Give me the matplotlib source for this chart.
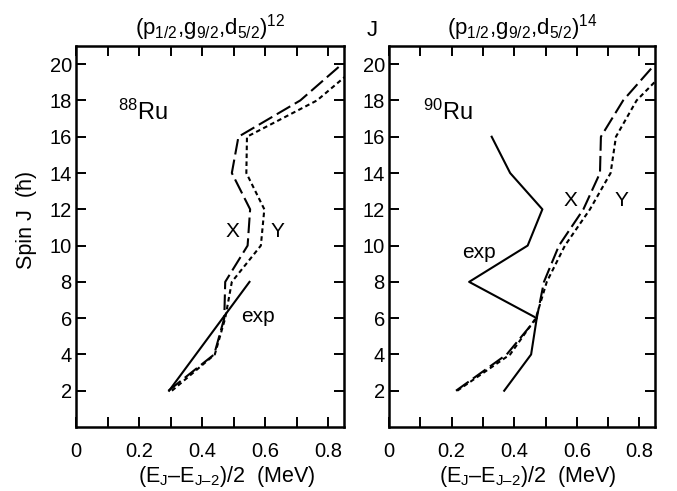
import matplotlib
matplotlib.use("Agg")
import matplotlib.pyplot as plt

plt.rcParams['font.family'] = ['Liberation Sans', 'DejaVu Sans']
plt.rcParams['mathtext.fontset'] = 'custom'
plt.rcParams['mathtext.rm'] = 'Liberation Sans'
plt.rcParams['mathtext.it'] = 'Liberation Sans'
plt.rcParams['mathtext.default'] = 'regular'

spins = [2, 4, 6, 8, 10, 12, 14, 16, 18, 20]

# 88Ru, (p1/2,g9/2,d5/2)^12
ru88_x = [0.293, 0.438, 0.470, 0.473, 0.544, 0.552, 0.494, 0.515, 0.711, 0.843]
ru88_y = [0.304, 0.440, 0.473, 0.494, 0.586, 0.597, 0.540, 0.542, 0.764, 0.900]
ru88_exp_spins = [2, 4, 6, 8]
ru88_exp = [0.295, 0.380, 0.465, 0.550]

# 90Ru, (p1/2,g9/2,d5/2)^14
ru90_x = [0.214, 0.376, 0.472, 0.495, 0.543, 0.621, 0.674, 0.677, 0.748, 0.850]
ru90_y = [0.218, 0.387, 0.469, 0.504, 0.562, 0.642, 0.708, 0.725, 0.791, 0.905]
ru90_exp_spins = [2, 4, 6, 8, 10, 12, 14, 16]
ru90_exp = [0.368, 0.454, 0.472, 0.256, 0.443, 0.490, 0.387, 0.328]

xticks = [0, 0.2, 0.4, 0.6, 0.8]
xtick_labels = ["0", "0.2", "0.4", "0.6", "0.8"]
yticks = [2, 4, 6, 8, 10, 12, 14, 16, 18, 20]

fig = plt.figure(figsize=(6.77, 4.91), dpi=100)
ax1 = fig.add_axes([0.1123, 0.1303, 0.396, 0.776])
ax2 = fig.add_axes([0.5746, 0.1303, 0.393, 0.776])

dash_x = (7.5, 2.5)
dash_y = (2.2, 1.6)
lw = 1.5

panels = [
    (ax1, ru88_x, ru88_y, ru88_exp_spins, ru88_exp, "12"),
    (ax2, ru90_x, ru90_y, ru90_exp_spins, ru90_exp, "14"),
]

for ax, xs, ys, es, ev, npart in panels:
    ax.plot(xs, spins, color='black', lw=lw, linestyle=(0, dash_x))
    ax.plot(ys, spins, color='black', lw=lw, linestyle=(0, dash_y))
    ax.plot(ev, es, color='black', lw=lw)
    ax.set_xlim(0, 0.85)
    ax.set_ylim(0, 21)
    ax.set_xticks(xticks)
    ax.set_xticklabels(xtick_labels)
    ax.set_xticks([0.1, 0.3, 0.5, 0.7], minor=True)
    ax.set_yticks(yticks)
    ax.tick_params(axis='both', which='both', direction='in', top=True, right=True,
                   length=7, width=1.4, labelsize=14.5)
    ax.tick_params(axis='x', which='both', pad=11)
    ax.tick_params(axis='y', which='both', pad=3)
    for s in ax.spines.values():
        s.set_linewidth(1.8)
    ax.set_title(r"$(\mathrm{p}_{1/2}{,}\mathrm{g}_{9/2}{,}\mathrm{d}_{5/2})^{%s}$" % npart,
                 fontsize=16, pad=8)
    ax.set_xlabel(r"$(\mathrm{E}_{\mathrm{J}}$–$\mathrm{E}_{\mathrm{J–2}})/2$  (MeV)", fontsize=15.5)

ax1.xaxis.set_label_coords(0.563, -0.098)
ax2.xaxis.set_label_coords(0.523, -0.098)

ax1.set_ylabel("Spin J  (ħ)", fontsize=15.5)
ax1.yaxis.set_label_coords(-0.146, 0.543)

ax1.text(0.133, 17.36, r"$^{88}$Ru", fontsize=17, ha='left', va='center')
ax1.text(0.496, 10.75, "X", fontsize=15, ha='center', va='center')
ax1.text(0.638, 10.75, "Y", fontsize=15, ha='center', va='center')
ax1.text(0.578, 6.1, "exp", fontsize=15, ha='center', va='center')

ax2.text(0.109, 17.36, r"$^{90}$Ru", fontsize=17, ha='left', va='center')
ax2.text(0.580, 12.5, "X", fontsize=15, ha='center', va='center')
ax2.text(0.744, 12.5, "Y", fontsize=15, ha='center', va='center')
ax2.text(0.288, 9.6, "exp", fontsize=15, ha='center', va='center')

fig.text(372 / 677, 1 - 31 / 491, "J", fontsize=16, ha='center', va='center')

fig.savefig("out.png", dpi=100)
